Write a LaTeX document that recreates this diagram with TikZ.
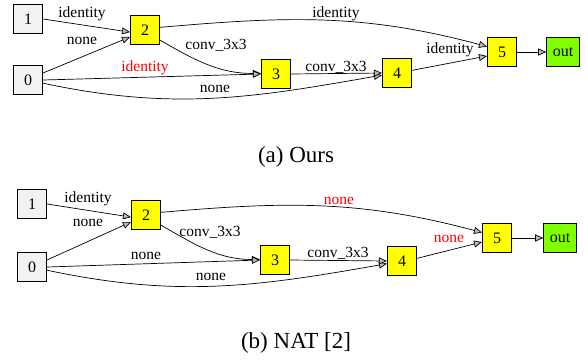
\documentclass[tikz,border=0pt]{standalone}
\usepackage{fontspec}
\setmainfont{Liberation Serif}
\usetikzlibrary{arrows.meta}
\definecolor{inbox}{HTML}{F2F2F2}
\definecolor{midbox}{HTML}{FFFF00}
\definecolor{outbox}{HTML}{7FFF00}
\tikzset{
  cell/.style={draw, line width=1.1pt, minimum width=29pt, minimum height=29pt, inner sep=2pt, font=\fontsize{16}{18}\selectfont},
  incell/.style={cell, fill=inbox},
  midcell/.style={cell, fill=midbox},
  outcell/.style={cell, fill=outbox, inner xsep=6pt},
  lbl/.style={inner sep=0pt, font=\fontsize{15.5}{17}\selectfont},
  edge/.style={line width=0.7pt, -{Triangle[length=8pt,width=7pt,fill=gray!55]}},
  caption/.style={font=\fontsize{23}{26}\selectfont}
}

\begin{document}
\begin{tikzpicture}[x=1pt,y=-1pt]
              %\draw[help lines](0,0) grid (588,360);
              \useasboundingbox (0,0) rectangle (588,360);

              % (a) ours
              \draw (28,19) node[incell] (t1) {1};
              \draw (28,80) node[incell] (t0) {0};
              \draw (145,30) node[midcell] (t2) {2};
              \draw (276,74) node[midcell] (t3) {3};
              \draw (397,73) node[midcell] (t4) {4};
              \draw (502,52) node[midcell] (t5) {5};
              \draw (563,52) node[outcell] (tout) {out};

              \draw[edge] (t1.east)--(t2.188);
              \draw[edge] (t0.25)--(t2.205);
              \draw[edge] (t2.-34) to[out=-30,in=180] (t3.178);
              \draw[edge] (t0.east)--(t3.west);
              \draw[edge] (t0.-12) to[out=-12,in=190] (t4.188);
              \draw[edge] (t2.10) to[out=5,in=165] (t5.160);
              \draw[edge] (t3.east)--(t4.west);
              \draw[edge] (t4.10)--(t5.195);
              \draw[edge] (t5.east)--(tout.west);

              \draw (82,14) node[lbl] (t12l) {identity};
              \draw (82,41) node[lbl] (t02l) {none};
              \draw (216,45) node[lbl] (t23l) {conv\_3x3};
              \draw (145,68) node[lbl,red] (t03l) {identity};
              \draw (215,89) node[lbl] (t04l) {none};
              \draw (336,14) node[lbl] (t25l) {identity};
              \draw (336,67) node[lbl] (t34l) {conv\_3x3};
              \draw (450,50) node[lbl] (t45l) {identity};

              \draw (296,157) node[caption] (tcap) {(a) Ours};

              % (b) NAT
              \draw (32,204) node[incell] (b1) {1};
              \draw (32,267) node[incell] (b0) {0};
              \draw (146,215) node[midcell] (b2) {2};
              \draw (275,260) node[midcell] (b3) {3};
              \draw (402,261) node[midcell] (b4) {4};
              \draw (497,238) node[midcell] (b5) {5};
              \draw (560,238) node[outcell] (bout) {out};

              \draw[edge] (b1.east)--(b2.188);
              \draw[edge] (b0.25)--(b2.205);
              \draw[edge] (b2.-34) to[out=-30,in=180] (b3.178);
              \draw[edge] (b0.east)--(b3.west);
              \draw[edge] (b0.-12) to[out=-12,in=190] (b4.190);
              \draw[edge] (b2.10) to[out=5,in=165] (b5.160);
              \draw[edge] (b3.east)--(b4.west);
              \draw[edge] (b4.10)--(b5.195);
              \draw[edge] (b5.east)--(bout.west);

              \draw (88,199) node[lbl] (b12l) {identity};
              \draw (88,223) node[lbl] (b02l) {none};
              \draw (210,232) node[lbl] (b23l) {conv\_3x3};
              \draw (146,256) node[lbl] (b03l) {none};
              \draw (211,277) node[lbl] (b04l) {none};
              \draw (339,201) node[lbl,red] (b25l) {none};
              \draw (338,253) node[lbl] (b34l) {conv\_3x3};
              \draw (449,239) node[lbl,red] (b45l) {none};

              \draw (296,343) node[caption] (bcap) {(b) NAT [2]};
            \end{tikzpicture}
\end{document}
